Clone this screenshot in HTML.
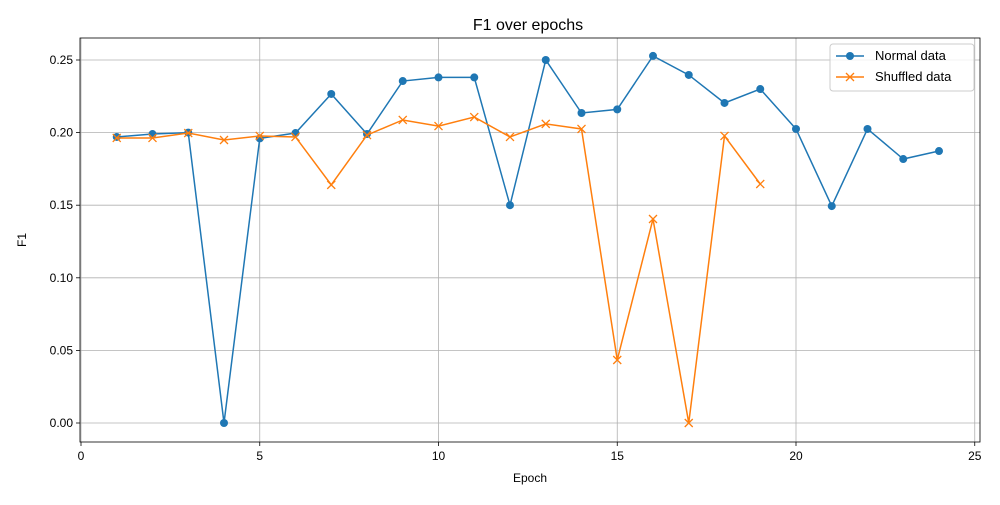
<!DOCTYPE html>
<html><head><meta charset="utf-8"><style>
body{margin:0;background:#fff;font-family:"Liberation Sans",sans-serif}
svg text{font-family:"Liberation Sans",sans-serif}
</style></head><body>
<svg id="chart" width="1000" height="500" xmlns="http://www.w3.org/2000/svg"></svg>
<script>
const epochsNormal=[1,2,3,4,5,6,7,8,9,10,11,12,13,14,15,16,17,18,19,20,21,22,23,24];
const normalValues=[0.197,0.199,0.200,0.0,0.196,0.1997,0.2266,0.199,0.2355,0.238,0.238,0.150,0.250,0.2135,0.216,0.2528,0.2397,0.2204,0.230,0.2025,0.1494,0.2025,0.1818,0.1873];
const epochsShuffled=[1,2,3,4,5,6,7,8,9,10,11,12,13,14,15,16,17,18,19];
const shuffledValues=[0.1963,0.1963,0.1997,0.1949,0.1977,0.197,0.164,0.1983,0.2087,0.2045,0.2107,0.197,0.206,0.2025,0.0434,0.1405,0.0,0.1977,0.1646];
const xTicks=[0,5,10,15,20,25];
const yTicks=[0,0.05,0.10,0.15,0.20,0.25];
const yTickLabels=["0.00","0.05","0.10","0.15","0.20","0.25"];

const NS="http://www.w3.org/2000/svg";
const svg=document.getElementById('chart');
const L=80,R=980,T=38,B=442;
const xs=v=>81+v*35.75;
const ys=v=>423-v*1452;
function el(tag,attrs,parent){const e=document.createElementNS(NS,tag);for(const k in attrs)e.setAttribute(k,attrs[k]);(parent||svg).appendChild(e);return e;}

const grid=el('g',{});


xTicks.forEach(t=>{el('line',{x1:xs(t),x2:xs(t),y1:T,y2:B,stroke:'#b0b0b0','stroke-width':0.8},grid);});
yTicks.forEach(t=>{el('line',{x1:L,x2:R,y1:ys(t),y2:ys(t),stroke:'#b0b0b0','stroke-width':0.8},grid);});

const frame=el('rect',{x:L,y:T,width:R-L,height:B-T,fill:'none',stroke:'#000','stroke-width':0.8});



const xAxis=el('g',{});


xTicks.forEach(t=>{
  el('line',{x1:xs(t),x2:xs(t),y1:B,y2:B+4,stroke:'#000','stroke-width':0.8},xAxis);
  const tx=el('text',{x:xs(t),y:B+18,'text-anchor':'middle','font-size':12},xAxis);tx.textContent=t;
  
  
});
const yAxis=el('g',{});


yTicks.forEach((t,i)=>{
  el('line',{x1:L-4,x2:L,y1:ys(t),y2:ys(t),stroke:'#000','stroke-width':0.8},yAxis);
  const tx=el('text',{x:L-7,y:ys(t)+4,'text-anchor':'end','font-size':12},yAxis);tx.textContent=yTickLabels[i];
  
  
});
let t=el('text',{x:530,y:482,'text-anchor':'middle','font-size':12});t.textContent='Epoch';


t=el('text',{x:26,y:240,'text-anchor':'middle','font-size':12,transform:'rotate(-90 26 240)'});t.textContent='F1';


t=el('text',{x:528,y:30,'text-anchor':'middle','font-size':16});t.textContent='F1 over epochs';



const gN=el('g',{});


el('polyline',{points:epochsNormal.map((e,i)=>xs(e)+','+ys(normalValues[i])).join(' '),fill:'none',stroke:'#1f77b4','stroke-width':1.5},gN);
epochsNormal.forEach((e,i)=>{const c=el('circle',{cx:xs(e),cy:ys(normalValues[i]),r:4,fill:'#1f77b4'},gN);
  
  });

const gS=el('g',{});


el('polyline',{points:epochsShuffled.map((e,i)=>xs(e)+','+ys(shuffledValues[i])).join(' '),fill:'none',stroke:'#ff7f0e','stroke-width':1.5},gS);
epochsShuffled.forEach((e,i)=>{const x=xs(e),y=ys(shuffledValues[i]);
  const p=el('path',{d:`M${x-4},${y-4}L${x+4},${y+4}M${x-4},${y+4}L${x+4},${y-4}`,stroke:'#ff7f0e','stroke-width':1.3},gS);
  
  });

const lg=el('g',{});


el('rect',{x:830,y:44,width:144,height:47,rx:3,fill:'#fff','fill-opacity':0.8,stroke:'#ccc'},lg);
el('line',{x1:836,x2:864,y1:56,y2:56,stroke:'#1f77b4','stroke-width':1.5},lg);
el('circle',{cx:850,cy:56,r:4,fill:'#1f77b4'},lg);
t=el('text',{x:875,y:60,'font-size':13},lg);t.textContent='Normal data';


el('line',{x1:836,x2:864,y1:77,y2:77,stroke:'#ff7f0e','stroke-width':1.5},lg);
el('path',{d:'M846,73L854,81M846,81L854,73',stroke:'#ff7f0e','stroke-width':1.3},lg);
t=el('text',{x:875,y:81,'font-size':13},lg);t.textContent='Shuffled data';


</script>
</body></html>
